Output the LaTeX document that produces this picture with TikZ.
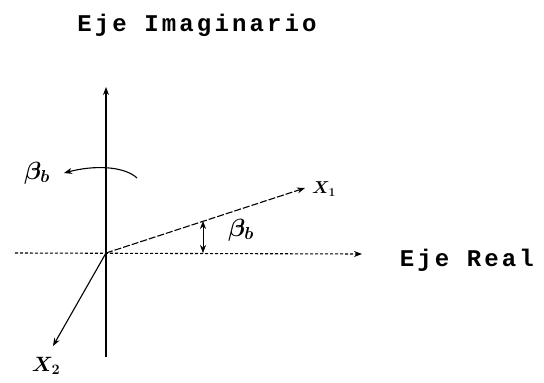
\documentclass[tikz,border=0pt]{standalone}
\usepackage{amsmath,bm}
\usepackage{fontspec}
\newfontfamily\ejefont[LetterSpace=13]{Liberation Mono}
\usepackage{tikz}
\usetikzlibrary{arrows.meta,positioning}

\begin{document}
\begin{tikzpicture}[x=1pt, y=-1pt, >={Stealth[length=8pt,width=6pt]}, line width=1.1pt]
\useasboundingbox (0,0) rectangle (544,383);
\tikzset{
  ejetext/.style={font=\ejefont\bfseries\fontsize{24}{26}\selectfont},
  mathlbl/.style={font=\fontsize{24}{28}\selectfont, inner sep=1pt}
}
% ejes
\coordinate (O) at (106,253);
\coordinate (imtop) at (106,87);
\coordinate (imbot) at (106,357);
\coordinate (releft) at (15,253);
\coordinate (reright) at (362,254);
\draw[->] (imbot) -- (imtop);
\draw[->, densely dashed] (releft) -- (reright);

% vectores
\coordinate (xone) at (305,188);
\coordinate (xtwo) at (53,346);
\draw[->, dash pattern=on 7pt off 2pt] (O) -- (xone);
\draw[->] (O) -- (xtwo);

% giro de los ejes
\coordinate (arcR) at (137,178);
\coordinate (arcL) at (64,173);
\draw[->] (arcR) .. controls (124,166) and (94,165) .. (arcL);

% angulo
\coordinate (tick) at (203,221);
\coordinate (foot) at (203,253);
\draw[<->, semithick] (tick) -- (foot);

% textos
\node[ejetext] (titulo) at (197,25) {Eje Imaginario};
\node[ejetext, anchor=west] (real) at (396,260) {Eje Real};
\node[font=\fontsize{18}{20}\selectfont] (lblone) at (324,189) {$\bm{X_1}$};
\node[font=\fontsize{22}{24}\selectfont] (lbltwo) at (46,366) {$\bm{X_2}$};
\node[mathlbl] (betaup) at (37,173) {$\bm{\beta_b}$};
\node[mathlbl] (betadown) at (241,230) {$\bm{\beta_b}$};
\end{tikzpicture}
\end{document}
